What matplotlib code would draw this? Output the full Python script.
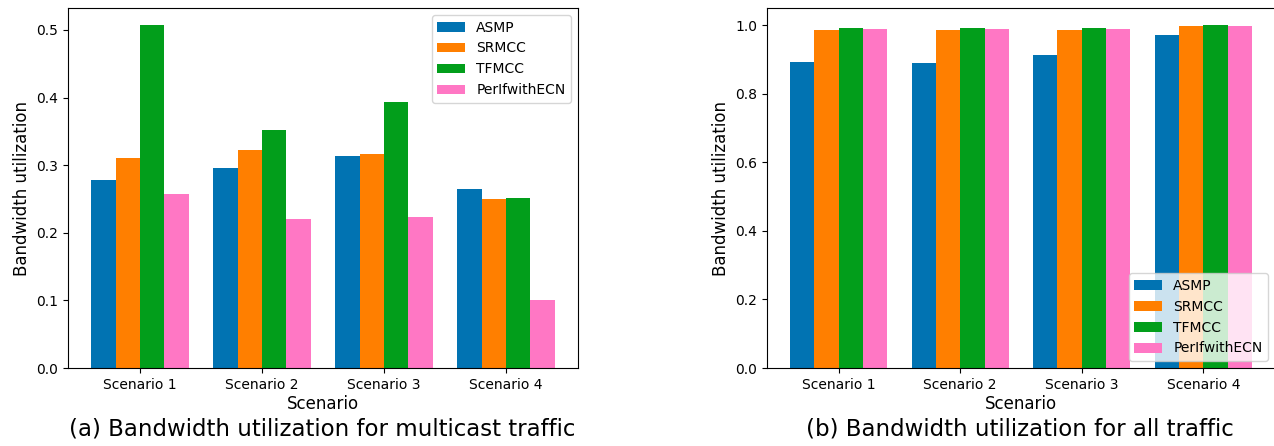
import matplotlib
matplotlib.use("Agg")
import matplotlib.pyplot as plt
import numpy as np

scenarios = ["Scenario 1", "Scenario 2", "Scenario 3", "Scenario 4"]
methods = ["ASMP", "SRMCC", "TFMCC", "PerIfwithECN"]
colors = ["#0173b2", "#ff7f00", "#029e1b", "#ff77c4"]

multicast_asmp = [0.278, 0.296, 0.314, 0.265]
multicast_srmcc = [0.310, 0.322, 0.317, 0.250]
multicast_tfmcc = [0.507, 0.352, 0.394, 0.252]
multicast_perif = [0.257, 0.221, 0.224, 0.100]

all_asmp = [0.893, 0.889, 0.913, 0.972]
all_srmcc = [0.985, 0.985, 0.985, 0.997]
all_tfmcc = [0.991, 0.991, 0.991, 1.000]
all_perif = [0.988, 0.988, 0.988, 0.997]

captions = ["(a) Bandwidth utilization for multicast traffic",
            "(b) Bandwidth utilization for all traffic"]

fig = plt.figure(figsize=(12.74, 4.46), dpi=100)
ax1 = fig.add_axes([68/1274, 1-368/446, (578-68)/1274, 360/446])
ax2 = fig.add_axes([767/1274, 1-368/446, (1275-767)/1274, 360/446])

x = np.arange(len(scenarios))
w = 0.2

def draw(ax, series, loc, cap, cx):
    for i, (vals, name, c) in enumerate(zip(series, methods, colors)):
        ax.bar(x + (i - 1.5) * w, vals, w, label=name, color=c)
    ax.set_xticks(x)
    ax.set_xticklabels(scenarios, fontsize=10)
    ax.tick_params(axis='y', labelsize=10)
    ax.set_xlabel("Scenario", fontsize=12, labelpad=2)
    ax.set_ylabel("Bandwidth utilization", fontsize=12)
    ax.legend(loc=loc, fontsize=10)
    fig.text(cx / 1274, 5 / 446, cap, ha='center', va='bottom', fontsize=16.5)

draw(ax1, [multicast_asmp, multicast_srmcc, multicast_tfmcc, multicast_perif], 'upper right', captions[0], 322)
draw(ax2, [all_asmp, all_srmcc, all_tfmcc, all_perif], 'lower right', captions[1], 1020)

fig.savefig("out.png", dpi=100)
